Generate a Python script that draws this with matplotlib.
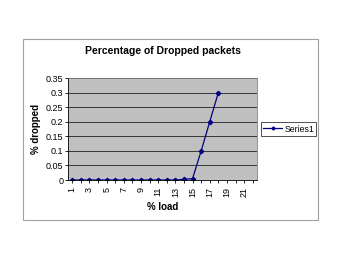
import matplotlib.pyplot as plt
from matplotlib.patches import Rectangle

plt.rcParams['font.family'] = ['Liberation Sans', 'DejaVu Sans']

# data
load = list(range(1, 19))
dropped = [0, 0, 0, 0, 0, 0, 0, 0, 0, 0, 0, 0, 0, 0.002, 0.005, 0.1, 0.2, 0.3]
xticks = list(range(1, 23, 2))
yticks = [0, 0.05, 0.1, 0.15, 0.2, 0.25, 0.3, 0.35]
ytick_labels = ['0', '0.05', '0.1', '0.15', '0.2', '0.25', '0.3', '0.35']

fig = plt.figure(figsize=(3.5, 2.63), dpi=100)

# chart area border
fig.patches.append(Rectangle((23 / 350, 1 - 220 / 263), 295 / 350, 181 / 263,
                             transform=fig.transFigure, fill=False,
                             edgecolor='#a0a0a0', linewidth=0.8))

ax = fig.add_axes([68 / 350, 1 - 180 / 263, 189 / 350, 102 / 263])
ax.set_facecolor('#c0c0c0')
ax.plot(load, dropped, color='#000080', marker='D', markersize=2.2,
        linewidth=0.9, label='Series1')

ax.set_xlim(0.5, 22.5)
ax.set_ylim(0, 0.35)
ax.set_xticks(xticks)
ax.set_xticklabels([str(t) for t in xticks], rotation=90, fontsize=6.5)
ax.set_xticks(range(1, 23), minor=True)
ax.set_yticks(yticks)
ax.set_yticklabels(ytick_labels, fontsize=6.5)
ax.yaxis.grid(True, color='#202020', linewidth=0.6)
ax.set_axisbelow(True)
ax.tick_params(axis='both', length=2, width=0.6, pad=1.5)
ax.tick_params(axis='x', pad=3)
ax.tick_params(axis='x', which='minor', length=2, width=0.6)
for side in ['top', 'right']:
    ax.spines[side].set_color('#808080')
    ax.spines[side].set_linewidth(0.6)
for side in ['left', 'bottom']:
    ax.spines[side].set_linewidth(0.6)

ax.set_xlabel('% load', fontsize=7, fontweight='bold', labelpad=4)
ax.set_ylabel('% dropped', fontsize=7, fontweight='bold', labelpad=3)
fig.text(163 / 350, 1 - 51 / 263, 'Percentage of Dropped packets',
         ha='center', va='center', fontsize=7.5, fontweight='bold')

leg = fig.legend(loc='center left', bbox_to_anchor=(261 / 350, 1 - 129 / 263),
                 fontsize=6.3, frameon=True, fancybox=False, edgecolor='black',
                 handlelength=2.2, borderpad=0.25, handletextpad=0.2,
                 borderaxespad=0, markerscale=0.7)
leg.get_frame().set_linewidth(0.6)

fig.savefig('out.png', dpi=100)
